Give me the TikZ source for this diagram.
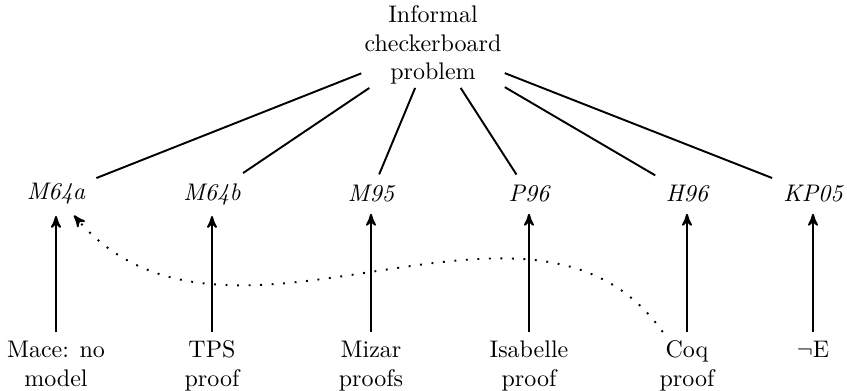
\documentclass[tikz,border=0pt]{standalone}
\usepackage{amsmath}
\usepackage{amssymb}
\usetikzlibrary{arrows,positioning,calc}

\begin{document}
\begin{tikzpicture}[->,>=stealth',shorten >=1pt,auto,
x=0.4167pt,y=-0.4167pt,
thick]

\tikzstyle{problem}=[align=center, text centered, inner sep=1pt]
\tikzstyle{formal}=[font=\itshape]
\tikzstyle{proof}=[align=center, anchor=north]

\useasboundingbox (0,0) rectangle (847,390);

%informal problem
\node[problem]
(inf) at (433,45)
{Informal\\checkerboard\\problem};

%formalisations
\node[formal]
(m64a) at (56,194)
{M64a};

\node[formal]
(m64b) at (212,194)
{M64b};

\node[formal]
(m95) at (371,194)
{M95};

\node[formal]
(p96) at (529,194)
{P96};

\node[formal]
(h96) at (687,194)
{H96};

\node[formal]
(kp05) at (813,194)
{KP05};

%proofs
\node[proof]
(mace) at (56,332)
{Mace: no\\model};

\node[proof]
(tps) at (212,332)
{TPS\\proof};

\node[proof]
(mizar) at (371,332)
{Mizar\\proofs};

\node[proof]
(isa) at (529,332)
{Isabelle\\proof};

\node[proof]
(coq) at (687,332)
{Coq\\proof};

\node[proof]
(nege) at (813,332)
{$\neg$E};

\path[-] (inf) edge (m64a);
\path[-] (inf) edge (m64b);
\path[-] (inf) edge (m95);
\path[-] (inf) edge (p96);
\path[-] (inf) edge (h96);
\path[-] (inf) edge (kp05);

\path[->] (mace) edge (m64a);
\path[->] (tps) edge (m64b);
\path[->] (mizar) edge (m95);
\path[->] (isa) edge (p96);
\path[->] (coq) edge (h96);
\path[->] (nege) edge (kp05);

\draw[->,loosely dotted] (coq) .. controls (530,145) and (225,395) .. (m64a);

\end{tikzpicture}
\end{document}
